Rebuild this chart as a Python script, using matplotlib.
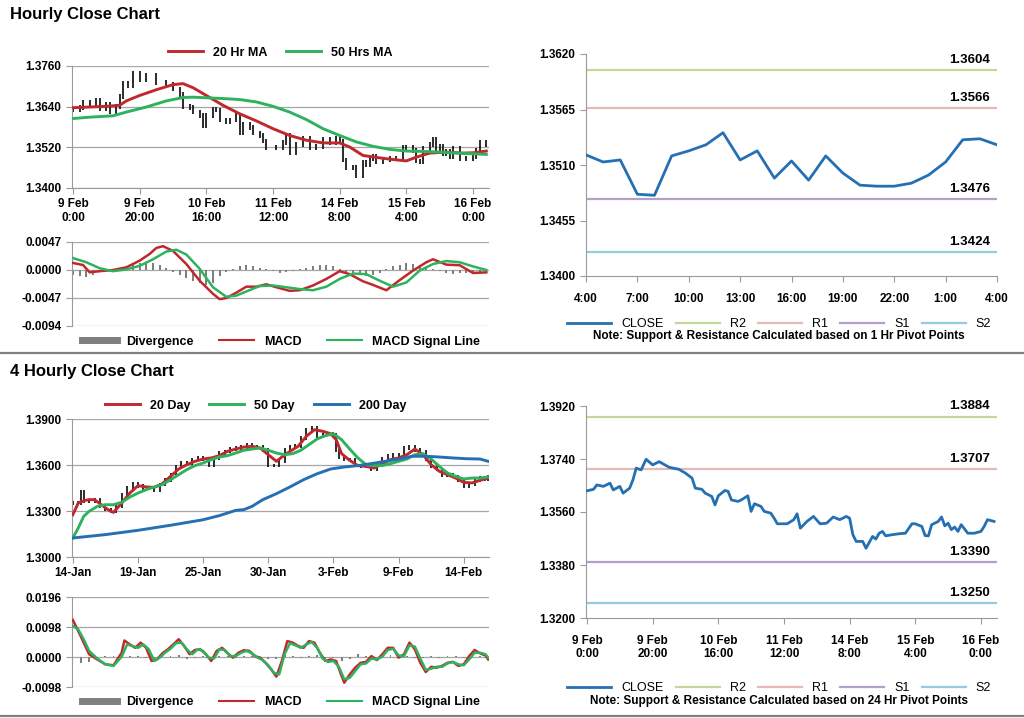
import matplotlib
matplotlib.use("Agg")
import matplotlib.pyplot as plt
from matplotlib.lines import Line2D

plt.rcParams["font.family"] = ["Liberation Sans", "DejaVu Sans"]

# ---- hourly close (shared by top-left bars and bottom-right line) ----
hourly_hours = [0, 2, 3, 5, 7, 8, 10, 11, 13, 14, 15, 16.5, 18, 20, 22, 25, 28, 30, 32, 33,
                35, 36, 38, 39, 40, 42, 43, 44, 46, 47, 49, 50, 51, 53, 54, 56, 57, 58, 61, 63,
                64, 65, 67, 69, 71, 73, 75, 77, 79, 80, 81, 82, 84, 85, 87, 88, 89, 90, 91, 93,
                95, 97, 99, 100, 102, 103, 104, 105, 107, 108, 109, 110, 111, 112, 113, 114, 116, 118, 120, 121,
                122, 124]
hourly_close = [1.3632, 1.3637, 1.3652, 1.3647, 1.3658, 1.3635, 1.3647, 1.3624, 1.3641, 1.3669,
                1.3709, 1.3703, 1.3739, 1.3720, 1.3731, 1.3712, 1.3705, 1.3692, 1.3675, 1.3641,
                1.3637, 1.3624, 1.3613, 1.3584, 1.3615, 1.3633, 1.3630, 1.3601, 1.3596, 1.3601,
                1.3615, 1.3562, 1.3588, 1.3579, 1.3562, 1.3556, 1.3539, 1.3520, 1.3520, 1.3534,
                1.3554, 1.3505, 1.3528, 1.3545, 1.3520, 1.3522, 1.3543, 1.3534, 1.3545, 1.3539,
                1.3483, 1.3460, 1.3460, 1.3437, 1.3477, 1.3468, 1.3488, 1.3494, 1.3479, 1.3483,
                1.3486, 1.3488, 1.3520, 1.3520, 1.3511, 1.3480, 1.3479, 1.3517, 1.3528, 1.3543,
                1.3513, 1.3522, 1.3500, 1.3509, 1.3494, 1.3517, 1.3488, 1.3488, 1.3494, 1.3511,
                1.3534, 1.3528]

ma20_hours = [0, 10, 14, 16, 20, 25, 30, 33, 36, 40, 45, 50, 55, 60, 65, 70, 75, 80, 83, 87,
              92, 96, 100, 103, 107, 112, 117, 120, 124]
ma20_vals = [1.3637, 1.3641, 1.3644, 1.3657, 1.3673, 1.3690, 1.3705, 1.3708, 1.3696, 1.3673,
             1.3644, 1.3619, 1.3598, 1.3575, 1.3555, 1.3541, 1.3533, 1.3533, 1.3521, 1.3496,
             1.3489, 1.3484, 1.3480, 1.3491, 1.3503, 1.3506, 1.3503, 1.3504, 1.3509]

ma50_hours = [0, 5, 12, 16, 22, 28, 33, 36, 45, 50, 55, 60, 65, 70, 75, 80, 85, 90, 95, 100,
              105, 110, 115, 120, 124]
ma50_vals = [1.3605, 1.3609, 1.3613, 1.3624, 1.3639, 1.3657, 1.3667, 1.3668, 1.3664, 1.3661,
             1.3654, 1.3641, 1.3624, 1.3602, 1.3575, 1.3555, 1.3536, 1.3523, 1.3514, 1.3509,
             1.3508, 1.3506, 1.3503, 1.3501, 1.3499]

# ---- hourly MACD ----
macd1_hours = [0, 3, 5, 8, 12, 16, 20, 23, 25, 27, 30, 34, 38, 42, 44, 46, 49, 52, 55, 58,
               61, 65, 68, 72, 76, 80, 83, 87, 90, 94, 98, 102, 106, 108, 112, 116, 120, 124]
macd1_vals = [0.00118, 0.00084, -0.00039, -0.0002, 0.0, 0.00045, 0.00157, 0.0027, 0.0037, 0.0040,
              0.0032, 0.0010, -0.0018, -0.0040, -0.0049, -0.0047, -0.0038, -0.0028, -0.0028, -0.0024,
              -0.0029, -0.0035, -0.0034, -0.0026, -0.0015, -0.0002, -0.0007, -0.0019, -0.0025, -0.0034,
              -0.0017, -0.0001, 0.0013, 0.0018, 0.0009, 0.0008, -0.0005, -0.0004]
sig1_hours = [0, 4, 8, 12, 16, 20, 24, 28, 31, 34, 38, 42, 46, 49, 52, 56, 60, 64, 68, 72,
              76, 80, 84, 88, 92, 96, 100, 104, 108, 112, 116, 120, 124]
sig1_vals = [0.0020, 0.0013, 0.0003, -0.0002, 0.0001, 0.0007, 0.0018, 0.0031, 0.0034, 0.0026,
             0.0002, -0.0029, -0.0045, -0.0043, -0.0036, -0.0027, -0.0026, -0.0029, -0.0032, -0.0034,
             -0.0028, -0.0015, -0.0006, -0.0007, -0.0018, -0.0028, -0.0021, -0.0001, 0.0010, 0.0015,
             0.0013, 0.0006, 0.0]
div1_hours = list(range(0, 125, 2))
div1_vals = [-0.0008, -0.0010, -0.0012, -0.0008, -0.0003, -0.0001, 0.0, 0.0003, 0.0006, 0.0009,
             0.0011, 0.0012, 0.0012, 0.0008, 0.0003, -0.0003, -0.0008, -0.0014, -0.0018, -0.0022,
             -0.0026, -0.0022, -0.0010, -0.0004, 0.0002, 0.0006, 0.0009, 0.0007, 0.0004, 0.0002,
             -0.0002, -0.0005, -0.0004, -0.0002, 0.0001, 0.0004, 0.0007, 0.0009, 0.0008, 0.0006,
             0.0002, -0.0003, -0.0006, -0.0008, -0.0010, -0.0008, -0.0005, 0.0002, 0.0006, 0.0009,
             0.0011, 0.0010, 0.0008, 0.0005, 0.0002, -0.0002, -0.0005, -0.0006, -0.0005, -0.0005,
             -0.0006, -0.0004, -0.0003]

# ---- 1-hour pivot chart ----
pivot1_labels = ["4:00", "7:00", "10:00", "13:00", "16:00", "19:00", "22:00", "1:00", "4:00"]
pivot1_close = [1.3520, 1.3513, 1.3515, 1.3481, 1.3480, 1.3519, 1.3524, 1.3530, 1.3542, 1.3515,
                1.3524, 1.3497, 1.3514, 1.3495, 1.3519, 1.3502, 1.3490, 1.3489, 1.3489, 1.3492,
                1.3500, 1.3513, 1.3535, 1.3536, 1.3530]
pivot1_levels = {"R2": 1.3604, "R1": 1.3566, "S1": 1.3476, "S2": 1.3424}

# ---- 4-hourly chart ----
bar4_idx = [0, 2, 3, 4, 6, 8, 10, 12, 14, 16, 18, 20, 22, 24, 26, 28, 30, 32, 34, 36,
            38, 40, 42, 44, 46, 48, 50, 52, 54, 56, 58, 60, 62, 64, 66, 68, 70, 72, 74, 76,
            78, 80, 82, 84, 86, 88, 90, 92, 94, 96, 97, 98, 100, 102, 104, 106, 108, 110, 112, 114,
            116, 118, 120, 122, 124, 126, 128, 130, 132, 134, 136, 138, 140, 142, 144, 146, 148, 150, 152, 153]
bar4_close = [1.3352, 1.3352, 1.3428, 1.3363, 1.3363, 1.3374, 1.3330, 1.3309, 1.3298, 1.3330,
              1.3406, 1.3450, 1.3478, 1.3465, 1.3450, 1.3450, 1.3439, 1.3472, 1.3504, 1.3537,
              1.3591, 1.3613, 1.3609, 1.3635, 1.3646, 1.3639, 1.3602, 1.3646, 1.3678, 1.3689,
              1.3704, 1.3711, 1.3717, 1.3733, 1.3717, 1.3717, 1.3700, 1.3596, 1.3596, 1.3624,
              1.3696, 1.3717, 1.3726, 1.3776, 1.3830, 1.3841, 1.3791, 1.3798, 1.3804, 1.3798,
              1.3700, 1.3652, 1.3635, 1.3635, 1.3596, 1.3591, 1.3596, 1.3570, 1.3602, 1.3639,
              1.3657, 1.3667, 1.3635, 1.3711, 1.3717, 1.3700, 1.3689, 1.3635, 1.3591, 1.3570,
              1.3537, 1.3537, 1.3526, 1.3504, 1.3461, 1.3478, 1.3504, 1.3515, 1.3509, 1.3526]

d20_idx = [0, 2, 4, 6, 8, 10, 12, 14, 15, 18, 21, 24, 27, 30, 33, 36, 39, 42, 45, 48,
           51, 54, 57, 60, 63, 66, 69, 72, 75, 77, 80, 83, 86, 89, 92, 95, 97, 99, 102, 105,
           108, 111, 114, 117, 120, 123, 126, 129, 132, 135, 138, 141, 144, 147, 150, 153]
d20_vals = [1.3276, 1.3352, 1.3367, 1.3374, 1.3374, 1.3348, 1.3320, 1.3298, 1.3291, 1.3352,
            1.3417, 1.3465, 1.3457, 1.3454, 1.3478, 1.3526, 1.3574, 1.3602, 1.3624, 1.3639,
            1.3646, 1.3661, 1.3689, 1.3704, 1.3717, 1.3722, 1.3711, 1.3667, 1.3624, 1.3652,
            1.3689, 1.3722, 1.3787, 1.3830, 1.3820, 1.3804, 1.3765, 1.3674, 1.3630, 1.3596,
            1.3591, 1.3580, 1.3609, 1.3635, 1.3646, 1.3667, 1.3704, 1.3667, 1.3602, 1.3559,
            1.3537, 1.3515, 1.3487, 1.3483, 1.3500, 1.3515]

d50_idx = [0, 2, 4, 6, 9, 12, 15, 18, 21, 24, 27, 30, 33, 36, 39, 42, 45, 48, 51, 54,
           57, 60, 63, 66, 69, 72, 75, 78, 81, 84, 87, 90, 93, 96, 99, 102, 105, 108, 111, 114,
           117, 120, 123, 126, 129, 132, 135, 138, 141, 144, 147, 150, 153]
d50_vals = [1.3124, 1.3189, 1.3265, 1.3298, 1.3330, 1.3341, 1.3341, 1.3357, 1.3391, 1.3417,
            1.3439, 1.3457, 1.3472, 1.3504, 1.3537, 1.3570, 1.3596, 1.3613, 1.3635, 1.3652,
            1.3661, 1.3678, 1.3696, 1.3704, 1.3711, 1.3696, 1.3678, 1.3667, 1.3674, 1.3696,
            1.3733, 1.3770, 1.3791, 1.3804, 1.3765, 1.3704, 1.3646, 1.3602, 1.3596, 1.3596,
            1.3609, 1.3624, 1.3639, 1.3667, 1.3674, 1.3639, 1.3591, 1.3548, 1.3526, 1.3509,
            1.3515, 1.3515, 1.3522]

d200_idx = [0, 12, 24, 36, 48, 54, 60, 63, 66, 70, 75, 80, 85, 90, 95, 100, 105, 110, 115, 120,
            125, 130, 135, 140, 145, 150, 153]
d200_vals = [1.3124, 1.3146, 1.3174, 1.3207, 1.3243, 1.3270, 1.3304, 1.3309, 1.3330, 1.3374,
             1.3413, 1.3457, 1.3504, 1.3543, 1.3574, 1.3587, 1.3596, 1.3609, 1.3624, 1.3639,
             1.3657, 1.3657, 1.3652, 1.3646, 1.3641, 1.3639, 1.3624]

day_labels = ["14-Jan", "19-Jan", "25-Jan", "30-Jan", "3-Feb", "9-Feb", "14-Feb"]

# ---- 4-hourly MACD ----
macd4_idx = [0, 2, 4, 6, 9, 12, 15, 18, 19, 21, 23, 25, 27, 29, 31, 33, 35, 37, 39, 41,
             43, 45, 47, 49, 51, 53, 55, 57, 59, 61, 63, 65, 67, 69, 71, 73, 75, 77, 79, 81,
             83, 85, 87, 89, 91, 93, 95, 97, 99, 100, 102, 104, 106, 108, 110, 112, 114, 116, 118, 120,
             122, 124, 126, 128, 130, 132, 134, 136, 138, 140, 142, 144, 146, 148, 150, 152, 153]
macd4_vals = [0.0121, 0.0085, 0.0047, 0.0009, -0.0008, -0.0024, -0.0027, 0.0014, 0.0054, 0.0041,
              0.0030, 0.0047, 0.0030, -0.0013, -0.0008, 0.0012, 0.0025, 0.0041, 0.0058, 0.0036,
              0.0009, 0.0023, 0.0025, 0.0009, -0.0013, 0.0020, 0.0030, 0.0012, -0.0002, 0.0014,
              0.0022, 0.0020, 0.0003, -0.0002, -0.0019, -0.0040, -0.0064, -0.0013, 0.0052, 0.0047,
              0.0036, 0.0030, 0.0052, 0.0047, 0.0014, -0.0013, -0.0008, -0.0013, -0.0062, -0.0084,
              -0.0057, -0.0035, -0.0019, -0.0016, 0.0003, -0.0010, 0.0009, 0.0030, 0.0030, -0.0002,
              0.0009, 0.0047, 0.0025, -0.0019, -0.0049, -0.0032, -0.0035, -0.0029, -0.0019, -0.0016,
              -0.0029, -0.0024, 0.0003, 0.0023, 0.0012, 0.0005, -0.0008]
sig4_idx = [0, 2, 4, 6, 9, 12, 15, 18, 20, 22, 24, 26, 28, 30, 32, 34, 36, 38, 40, 42,
            44, 46, 48, 50, 52, 54, 56, 58, 60, 62, 64, 66, 68, 70, 72, 74, 76, 78, 80, 82,
            84, 86, 88, 90, 92, 94, 96, 98, 100, 102, 104, 106, 108, 110, 112, 114, 116, 118, 120, 122,
            124, 126, 128, 130, 132, 134, 136, 138, 140, 142, 144, 146, 148, 150, 152, 153]
sig4_vals = [0.0101, 0.0090, 0.0058, 0.0020, -0.0005, -0.0024, -0.0029, 0.0001, 0.0041, 0.0036,
             0.0030, 0.0041, 0.0025, -0.0013, -0.0002, 0.0014, 0.0027, 0.0045, 0.0047, 0.0025,
             0.0009, 0.0025, 0.0020, -0.0002, -0.0005, 0.0025, 0.0023, 0.0003, 0.0003, 0.0014,
             0.0020, 0.0012, -0.0002, -0.0010, -0.0027, -0.0051, -0.0057, 0.0009, 0.0045, 0.0038,
             0.0030, 0.0041, 0.0049, 0.0030, -0.0005, -0.0016, -0.0013, -0.0032, -0.0073, -0.0068,
             -0.0046, -0.0024, -0.0021, -0.0005, -0.0008, 0.0001, 0.0023, 0.0027, 0.0005, 0.0003,
             0.0038, 0.0034, -0.0005, -0.0042, -0.0038, -0.0032, -0.0032, -0.0021, -0.0016, -0.0024,
             -0.0027, -0.0008, 0.0014, 0.0014, 0.0009, -0.0002]
div4_idx = list(range(0, 154, 3))
div4_vals = [0.0, -0.0018, -0.0015, -0.0004, 0.0002, 0.0003, -0.0003, 0.0004, 0.0003, -0.0004,
             -0.0006, 0.0002, 0.0004, 0.0005, -0.0006, -0.0003, 0.0003, -0.0005, 0.0004, 0.0003,
             -0.0002, 0.0003, 0.0002, -0.0003, -0.0005, -0.0008, 0.0006, 0.0003, -0.0003, 0.0004,
             0.0005, -0.0005, -0.0004, -0.0012, -0.0006, 0.0010, 0.0003, -0.0003, 0.0004, 0.0005,
             -0.0004, 0.0004, -0.0003, -0.0004, 0.0003, -0.0002, 0.0002, 0.0004, -0.0003, 0.0004,
             0.0003, -0.0002]

# ---- 24-hour pivot chart ----
pivot24_levels = {"R2": 1.3884, "R1": 1.3707, "S1": 1.3390, "S2": 1.3250}

hour_labels = ["9 Feb\n0:00", "9 Feb\n20:00", "10 Feb\n16:00", "11 Feb\n12:00",
               "14 Feb\n8:00", "15 Feb\n4:00", "16 Feb\n0:00"]

RED = "#c0282d"
GREEN = "#2db35d"
BLUE = "#2470b3"
GREY = "#7f7f7f"
AXC = "#9a9a9a"
LEVEL_COLORS = {"R2": "#c4d79b", "R1": "#e6b8b7", "S1": "#b1a0c7", "S2": "#92cddc"}


def px_axes(fig, x0, x1, ytop, ybot):
    W, H = 1024, 718
    return fig.add_axes([x0 / W, 1 - ybot / H, (x1 - x0) / W, (ybot - ytop) / H])


def style(ax, grid=True):
    for s in ["top", "right"]:
        ax.spines[s].set_visible(False)
    ax.spines["left"].set_color(AXC)
    ax.spines["bottom"].set_color(AXC)
    ax.tick_params(colors=AXC, labelcolor="black", labelsize=8.5, length=4)
    for lab in ax.get_yticklabels() + ax.get_xticklabels():
        lab.set_fontweight("bold")
    if grid:
        ax.yaxis.grid(True, color="#a6a6a6", lw=0.9)
        ax.set_axisbelow(True)


def price_bars(ax, xs, ys, pad):
    prev = [ys[0]] + ys[:-1]
    lo = [min(a, b) - pad for a, b in zip(prev, ys)]
    hi = [max(a, b) + pad for a, b in zip(prev, ys)]
    ax.vlines(xs, lo, hi, color="#1a1a1a", lw=1.3, zorder=2)


fig = plt.figure(figsize=(10.24, 7.18), dpi=100)

fig.text(10 / 1024, 1 - 15 / 718, "Hourly Close Chart", fontsize=12, fontweight="bold", va="center")
fig.text(10 / 1024, 1 - 372 / 718, "4 Hourly Close Chart", fontsize=12, fontweight="bold", va="center")
for yy in (353, 716):
    fig.add_artist(Line2D([0, 1], [1 - yy / 718] * 2, color="#808080", lw=1.6))

legend_font = {"size": 9, "weight": "bold"}

# ---- top-left price ----
ax = px_axes(fig, 72, 489, 66, 188)
price_bars(ax, hourly_hours, hourly_close, 0.0007)
ax.plot(ma20_hours, ma20_vals, color=RED, lw=2.1, label="20 Hr MA", zorder=3)
ax.plot(ma50_hours, ma50_vals, color=GREEN, lw=2.1, label="50 Hrs MA", zorder=3)
ax.set_ylim(1.3400, 1.3760)
ax.set_yticks([1.3400, 1.3520, 1.3640, 1.3760])
ax.yaxis.set_major_formatter(plt.FormatStrFormatter("%.4f"))
ax.set_xlim(-0.3, 124.8)
ax.set_xticks(range(0, 121, 20))
ax.set_xticklabels(hour_labels)
style(ax)
ax.legend(loc="lower center", bbox_to_anchor=(0.5, 1.0), ncol=2, frameon=False,
          prop=legend_font, handlelength=2.8, columnspacing=1.5, borderaxespad=0.2)

# ---- top-left MACD ----
ax = px_axes(fig, 72, 489, 242, 326)
ax.bar(div1_hours, div1_vals, width=0.6, color=GREY, zorder=2)
ax.plot(macd1_hours, macd1_vals, color=RED, lw=1.8, zorder=3)
ax.plot(sig1_hours, sig1_vals, color=GREEN, lw=1.8, zorder=3)
ax.set_ylim(-0.0094, 0.0047)
ax.set_yticks([-0.0094, -0.0047, 0.0, 0.0047])
ax.yaxis.set_major_formatter(plt.FormatStrFormatter("%.4f"))
ax.set_xlim(-0.3, 124.8)
ax.set_xticks([])
style(ax)
ax.spines["bottom"].set_visible(False)
h = [Line2D([], [], color=GREY, lw=5), Line2D([], [], color=RED, lw=1.5), Line2D([], [], color=GREEN, lw=1.5)]
ax.legend(h, ["Divergence", "MACD", "MACD Signal Line"], loc="upper center", bbox_to_anchor=(0.5, 0.02),
          ncol=3, frameon=False, prop=legend_font, handlelength=2.8, columnspacing=2.0)

# ---- top-right pivots ----
ax = px_axes(fig, 586, 997, 54, 276)
ax.plot(range(len(pivot1_close)), pivot1_close, color=BLUE, lw=2.0, label="CLOSE", zorder=3)
for name, v in pivot1_levels.items():
    ax.axhline(v, color=LEVEL_COLORS[name], lw=1.6, label=name)
    ax.annotate(f"{v:.4f}", xy=(24, v), xytext=(-5, 3), textcoords="offset points",
                ha="right", va="bottom", fontsize=9.5, fontweight="bold")
ax.set_ylim(1.3400, 1.3620)
ax.set_yticks([1.3400, 1.3455, 1.3510, 1.3565, 1.3620])
ax.yaxis.set_major_formatter(plt.FormatStrFormatter("%.4f"))
ax.set_xlim(0, 24)
ax.set_xticks(range(0, 25, 3))
ax.set_xticklabels(pivot1_labels)
style(ax, grid=False)
ax.tick_params(axis="x", pad=8)
ax.legend(loc="upper center", bbox_to_anchor=(0.47, -0.14), ncol=5, frameon=False,
          prop={"size": 9}, handlelength=3.5, columnspacing=1.0)
ax.text(0.47, -0.27, "Note: Support & Resistance Calculated based on 1 Hr Pivot Points",
        transform=ax.transAxes, ha="center", va="center", fontsize=8.5, fontweight="bold")

# ---- bottom-left 4 hourly ----
ax = px_axes(fig, 72, 489, 419, 557)
price_bars(ax, bar4_idx, bar4_close, 0.0012)
ax.plot(d20_idx, d20_vals, color=RED, lw=2.1, label="20 Day", zorder=3)
ax.plot(d50_idx, d50_vals, color=GREEN, lw=2.1, label="50 Day", zorder=3)
ax.plot(d200_idx, d200_vals, color=BLUE, lw=2.1, label="200 Day", zorder=3)
ax.set_ylim(1.3000, 1.3900)
ax.set_yticks([1.3000, 1.3300, 1.3600, 1.3900])
ax.yaxis.set_major_formatter(plt.FormatStrFormatter("%.4f"))
ax.set_xlim(-0.3, 153.3)
ax.set_xticks(range(0, 145, 24))
ax.set_xticklabels(day_labels)
style(ax)
ax.legend(loc="lower center", bbox_to_anchor=(0.44, 1.0), ncol=3, frameon=False,
          prop=legend_font, handlelength=2.8, columnspacing=1.5, borderaxespad=0.2)

# ---- bottom-left MACD ----
ax = px_axes(fig, 72, 489, 597, 687)
ax.bar(div4_idx, div4_vals, width=0.7, color=GREY, zorder=2)
ax.plot(macd4_idx, macd4_vals, color=RED, lw=1.8, zorder=3)
ax.plot(sig4_idx, sig4_vals, color=GREEN, lw=1.8, zorder=3)
ax.set_ylim(-0.0098, 0.0196)
ax.set_yticks([-0.0098, 0.0, 0.0098, 0.0196])
ax.yaxis.set_major_formatter(plt.FormatStrFormatter("%.4f"))
ax.set_xlim(-0.3, 153.3)
ax.set_xticks([])
style(ax)
ax.spines["bottom"].set_visible(False)
ax.legend(h, ["Divergence", "MACD", "MACD Signal Line"], loc="upper center", bbox_to_anchor=(0.5, 0.02),
          ncol=3, frameon=False, prop=legend_font, handlelength=2.8, columnspacing=2.0)

# ---- bottom-right pivots ----
ax = px_axes(fig, 586, 997, 406, 618)
ax.plot(hourly_hours, hourly_close, color=BLUE, lw=2.0, label="CLOSE", zorder=3)
for name, v in pivot24_levels.items():
    ax.axhline(v, color=LEVEL_COLORS[name], lw=1.6, label=name)
    ax.annotate(f"{v:.4f}", xy=(124.9, v), xytext=(-5, 3), textcoords="offset points",
                ha="right", va="bottom", fontsize=9.5, fontweight="bold")
ax.set_ylim(1.3200, 1.3920)
ax.set_yticks([1.3200, 1.3380, 1.3560, 1.3740, 1.3920])
ax.yaxis.set_major_formatter(plt.FormatStrFormatter("%.4f"))
ax.set_xlim(-0.3, 124.9)
ax.set_xticks(range(0, 121, 20))
ax.set_xticklabels(hour_labels)
style(ax, grid=False)
ax.tick_params(axis="x", pad=8)
ax.legend(loc="upper center", bbox_to_anchor=(0.47, -0.25), ncol=5, frameon=False,
          prop={"size": 9}, handlelength=3.5, columnspacing=1.0)
ax.text(0.47, -0.39, "Note: Support & Resistance Calculated based on 24 Hr Pivot Points",
        transform=ax.transAxes, ha="center", va="center", fontsize=8.5, fontweight="bold")

fig.savefig("out.png", dpi=100)
